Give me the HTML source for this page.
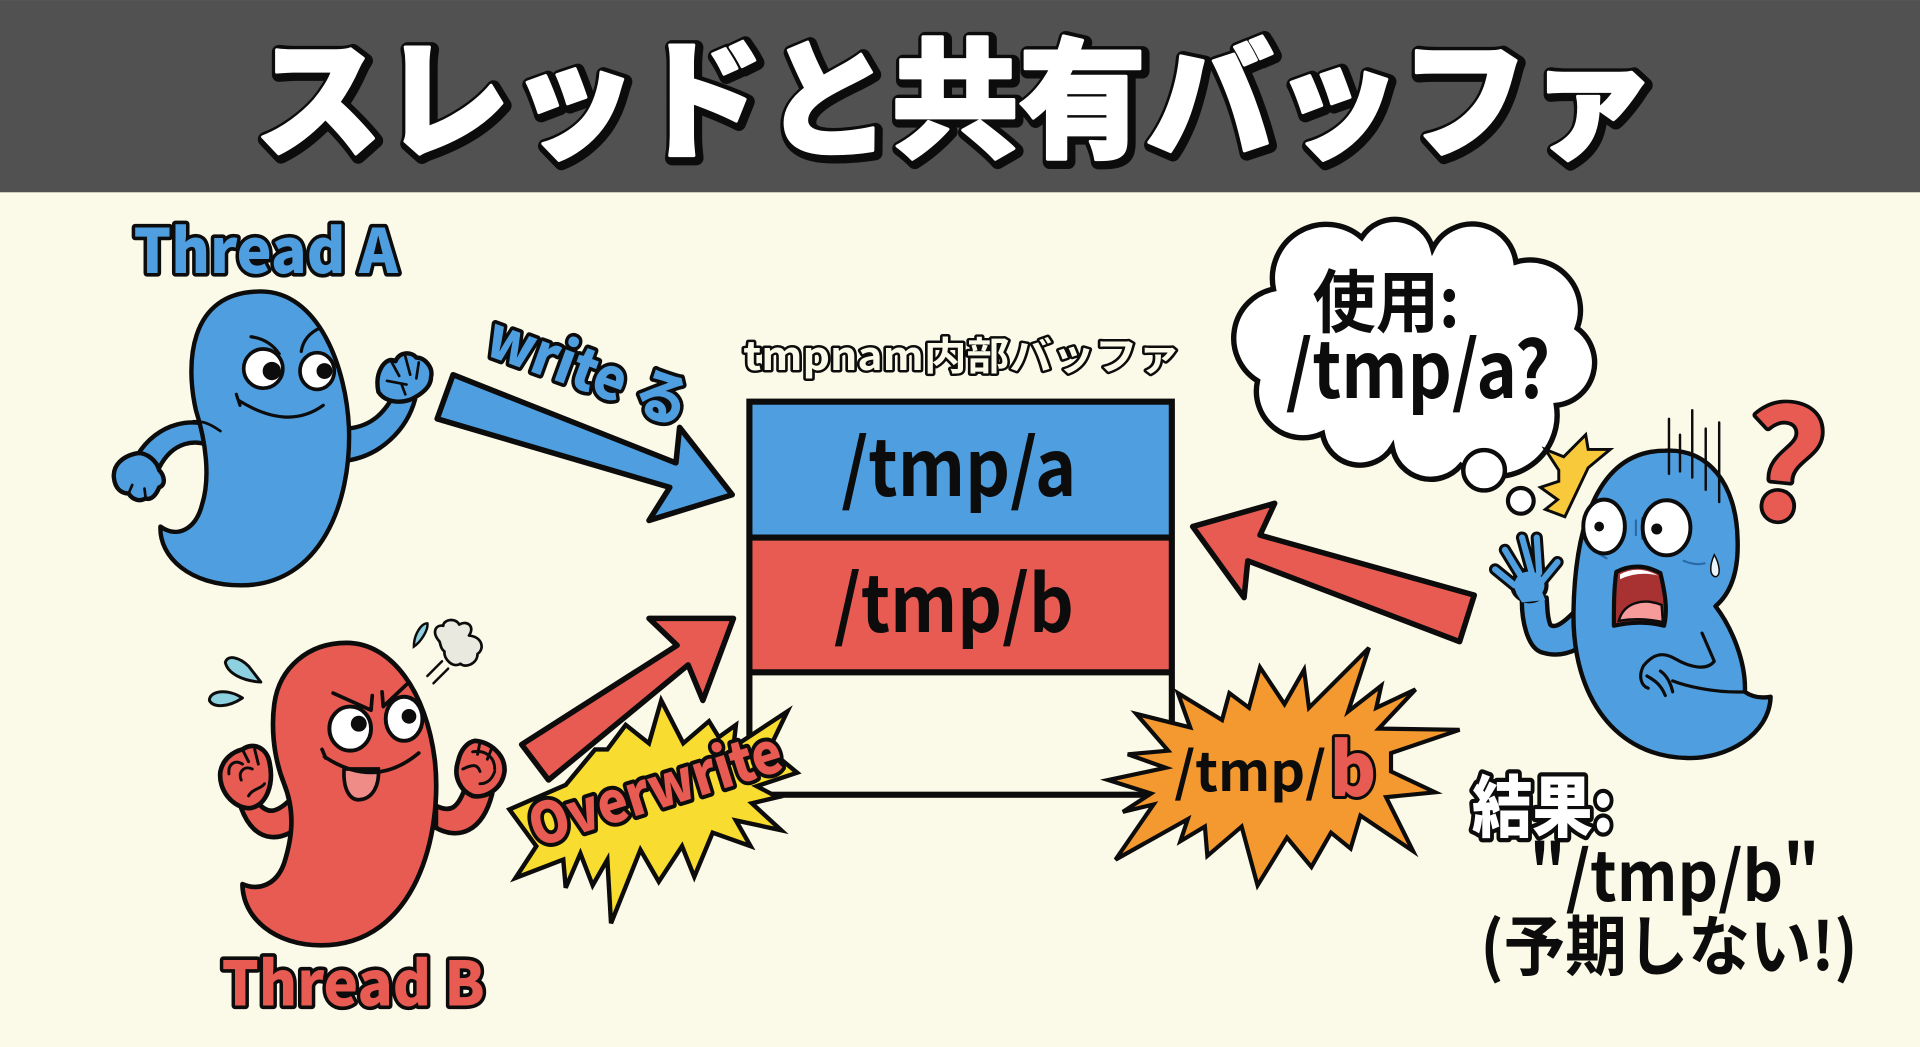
<!DOCTYPE html>
<html lang="ja">
<head>
<meta charset="utf-8">
<title>スレッドと共有バッファ</title>
<style>
html,body{margin:0;padding:0;background:#fbfae8;width:1920px;height:1047px;overflow:hidden}
svg{display:block}
text{font-family:"Noto Sans CJK JP","Liberation Sans",sans-serif;font-weight:700}
.o{stroke:#0c0c0c;paint-order:stroke;stroke-linejoin:round}
.l{fill:none;stroke:#0c0c0c;stroke-linecap:round;stroke-linejoin:round}
</style>
</head>
<body>
<svg xmlns="http://www.w3.org/2000/svg" width="1920" height="1047" viewBox="0 0 1568 855">
<rect width="1568" height="855" fill="#fbfae8"/>
<rect width="1568" height="157" fill="#505150"/>
<text x="210" y="122" font-size="106" textLength="1144" lengthAdjust="spacingAndGlyphs" fill="#0c0c0c" class="o" stroke-width="12" style="font-weight:900" aria-hidden="true">スレッドと共有バッファ</text>
<text x="208" y="120" font-size="106" textLength="1144" lengthAdjust="spacingAndGlyphs" fill="#fff" stroke="#fff" stroke-width="2.5" stroke-linejoin="round" style="font-weight:900">スレッドと共有バッファ</text>

<!-- Thread A -->
<text x="109" y="223" font-size="50" textLength="216" lengthAdjust="spacingAndGlyphs" fill="#4f9fe0" class="o" stroke-width="6" style="font-weight:900">Thread A</text>
<g stroke="#0c0c0c" stroke-width="3.6" stroke-linejoin="round" stroke-linecap="round" fill="#4f9fe0">
<path d="M284 350C305 348 315 335 322 322L339 326C332 352 310 372 284 376Z"/>
<path d="M180 352C160 338 128 345 112 372L130 382C140 362 160 355 178 368Z"/>
<path d="M131 430C145 440 160 432 165 412C172 390 168 360 160 335C152 300 152 238 213 238C260 238 283 300 285 350C287 410 262 478 197 478C155 478 130 455 131 430Z"/>
<path d="M309 306C312 296 318 292 323 295C326 287 336 287 340 292C347 292 354 300 352 308C352 316 344 322 336 326C326 330 314 328 309 320C308 315 308 310 309 306Z"/>
<path d="M113 370C100 372 92 380 93 390C94 400 100 403 105 403C108 408 114 410 119 407C124 409 128 403 130 398C136 396 134 388 130 384C128 376 120 370 113 370Z"/>
</g>
<g class="l" stroke-width="2.2">
<path d="M320 296L326 307M331 291L335 306M342 296L340 309M316 311L332 314M328 314L331 322"/>
<path d="M180 352C170 345 165 344 158 344M105 403L108 396M119 407L118 399"/>
</g>
<ellipse cx="215" cy="301" rx="16" ry="16" fill="#fff" stroke="#0c0c0c" stroke-width="3"/>
<ellipse cx="259" cy="303" rx="14" ry="15" fill="#fff" stroke="#0c0c0c" stroke-width="3"/>
<circle cx="222" cy="303" r="7.5" fill="#0c0c0c"/><circle cx="265" cy="303" r="6.5" fill="#0c0c0c"/>
<g class="l" stroke-width="2.6">
<path d="M205 275Q220 277 228 289M261 268Q248 274 246 287"/>
<path d="M195 327Q235 352 264 331M193 322L196 331"/>
</g>

<!-- write る -->
<text x="0" y="0" transform="translate(394 289) rotate(20)" font-size="47" textLength="172" lengthAdjust="spacingAndGlyphs" fill="#4f9fe0" class="o" stroke-width="6" style="font-weight:900">write る</text>
<polygon points="370,306 552,378 555,349 598,404 530,425 547,398 357,342" fill="#4f9fe0" stroke="#0c0c0c" stroke-width="4.5" stroke-linejoin="round"/>

<!-- Buffer -->
<text x="607" y="302" font-size="32" textLength="357" lengthAdjust="spacingAndGlyphs" fill="#fbfae8" class="o" stroke-width="4">tmpnam内部バッファ</text>
<rect x="612" y="328" width="345" height="111" fill="#4f9fe0"/>
<rect x="612" y="439" width="345" height="110" fill="#e85b52"/>
<rect x="612" y="328" width="345" height="321" fill="none" stroke="#0c0c0c" stroke-width="5"/>
<path d="M612 439H957M612 549H957" stroke="#0c0c0c" stroke-width="5"/>
<text x="687" y="405" font-size="64" textLength="192" lengthAdjust="spacingAndGlyphs" fill="#0c0c0c">/tmp/a</text>
<text x="681" y="516" font-size="64" textLength="196" lengthAdjust="spacingAndGlyphs" fill="#0c0c0c">/tmp/b</text>

<!-- Yellow burst -->
<polygon points="540,572 558,607 579,589 587,602 601,592 599,610 643,581 628,612 651,631 618,642 635,651 614,656 638,678 601,670 613,691 582,680 567,716 557,691 538,720 523,694 499,754 496,702 484,723 474,697 462,725 460,702 421,717 438,691 416,661 462,641 486,612 496,612 511,592 530,607" fill="#f8dc30" stroke="#0c0c0c" stroke-width="3.6" stroke-linejoin="miter"/>
<polygon points="599,505 574,572 562,543 448,637 426,608 553,527 530,505" fill="#e85b52" stroke="#0c0c0c" stroke-width="4.5" stroke-linejoin="round"/>
<text x="0" y="0" transform="translate(438 692) rotate(-17.4)" font-size="46" textLength="214" lengthAdjust="spacingAndGlyphs" fill="#e85b52" class="o" stroke-width="6.5" style="font-weight:900">Overwrite</text>

<!-- Orange burst -->
<polygon points="962,566 998,588 1004,566 1020,578 1029,545 1049,575 1065,547 1069,578 1118,529 1101,581 1128,560 1124,578 1156,563 1126,595 1192,596 1136,615 1136,630 1172,647 1132,651 1154,695 1111,666 1103,693 1087,680 1071,708 1051,684 1027,723 1014,675 986,699 984,675 964,687 970,669 911,702 942,657 917,663 940,648 905,637 952,627 921,616 954,613 928,583 972,594" fill="#f49830" stroke="#0c0c0c" stroke-width="3.4"/>
<text x="959" y="646" font-size="44" textLength="124" lengthAdjust="spacingAndGlyphs" fill="#0c0c0c">/tmp/</text>
<text x="1086" y="650" font-size="60" textLength="38" lengthAdjust="spacingAndGlyphs" fill="#e85b52" class="o" stroke-width="5" style="font-weight:900">b</text>

<!-- Red read arrow -->
<polygon points="974,430 1041,411 1029,437 1204,486 1192,524 1019,458 1016,488" fill="#e85b52" stroke="#0c0c0c" stroke-width="4.5" stroke-linejoin="round"/>

<!-- Thread B -->
<g stroke="#0c0c0c" stroke-width="3.8" stroke-linejoin="round" fill="#e85b52">
<path d="M211 656C218 664 225 666 240 650L252 668C232 690 208 690 197 660Z"/>
<path d="M356 658C368 664 374 660 380 643L402 648C394 680 374 686 356 676Z"/>
<path d="M198 722C212 728 226 722 232 705C240 680 240 660 232 640C222 615 222 590 224 575C228 545 252 525 283 525C320 525 348 565 355 620C362 680 340 772 262 772C225 772 198 750 198 722Z"/>
<path d="M198 612C208 605 218 612 220 622C224 640 218 658 204 660C190 660 178 645 180 630C182 620 190 614 198 612Z"/>
<path d="M388 605C400 606 413 616 412 630C410 645 396 652 386 650C376 646 370 634 374 622C376 612 382 606 388 605Z"/>
</g>
<g class="l" stroke-width="2.4">
<path d="M187 632C186 624 192 620 198 624M197 637C194 630 200 625 206 628M203 650C206 644 214 644 216 640M198 612L203 622M208 612L211 624"/>
<path d="M378 628C386 624 390 624 392 630M386 614C396 612 404 618 404 628M392 640C398 640 402 636 404 630M392 606L390 616M402 610L398 620"/>
</g>
<ellipse cx="286" cy="595" rx="17" ry="18" fill="#fff" stroke="#0c0c0c" stroke-width="3.2"/>
<ellipse cx="330" cy="587" rx="15" ry="18" fill="#fff" stroke="#0c0c0c" stroke-width="3.2"/>
<circle cx="293" cy="591" r="6.5" fill="#0c0c0c"/><circle cx="334" cy="585" r="6" fill="#0c0c0c"/>
<g class="l" stroke-width="3">
<path d="M272 566L303 580L304 568M332 559L313 577L312 565"/>
</g>
<path d="M281 628C280 645 286 654 294 653C304 652 310 642 309 628Z" fill="#ef8c88" stroke="#0c0c0c" stroke-width="3"/>
<path d="M265 618Q306 645 342 615M263 612L266 619" class="l" stroke-width="3"/>
<path d="M213 557C198 556 186 550 184 541C186 534 196 537 203 544Z" fill="#8dd0e0" stroke="#0c0c0c" stroke-width="2.4" stroke-linejoin="round"/>
<path d="M198 570C186 578 174 578 171 572C171 564 186 562 198 570Z" fill="#8dd0e0" stroke="#0c0c0c" stroke-width="2.4" stroke-linejoin="round"/>
<path d="M338 528C338 518 344 509 349 509C350 514 344 524 338 528Z" fill="#8dd0e0" stroke="#0c0c0c" stroke-width="2"/>
<path d="M359 524C352 516 356 510 362 511C362 506 372 504 375 510C382 506 388 512 383 519C394 520 396 530 390 534C390 542 380 546 376 542C370 546 362 538 363 532C360 530 360 527 359 524Z" fill="#e9e9e0" stroke="#0c0c0c" stroke-width="2.2" stroke-linejoin="round"/>
<path d="M349 552L361 540M354 558L366 546" class="l" stroke-width="2"/>
<text x="181" y="821" font-size="50" textLength="215" lengthAdjust="spacingAndGlyphs" fill="#e85b52" class="o" stroke-width="6" style="font-weight:900">Thread B</text>

<!-- Thought cloud -->
<path d="M1170 203A36 36 0 0 1 1238 214A41 41 0 0 1 1288 268A35 35 0 0 1 1271 331A50 50 0 0 1 1193 380A32 32 0 0 1 1137 365A31 31 0 0 1 1080 354A38 38 0 0 1 1027 311A41 41 0 0 1 1040 236A44 44 0 0 1 1112 194A32 32 0 0 1 1170 203Z" fill="#fff" stroke="#0c0c0c" stroke-width="4.4"/>
<ellipse cx="1212" cy="384" rx="17" ry="16.5" fill="#fff" stroke="#0c0c0c" stroke-width="3.6"/>
<circle cx="1242" cy="409" r="10.5" fill="#fff" stroke="#0c0c0c" stroke-width="3.4"/>
<text x="1072" y="267" font-size="56" textLength="120" lengthAdjust="spacingAndGlyphs" fill="#0c0c0c">使用:</text>
<text x="1050" y="325" font-size="64" textLength="216" lengthAdjust="spacingAndGlyphs" fill="#0c0c0c">/tmp/a?</text>

<!-- Worried thread -->
<polygon points="1262,367 1277,373 1295,355 1297,367 1315,367 1297,382 1278,422 1262,416 1272,408 1258,398 1273,393 1273,384" fill="#f9c93c" stroke="#0c0c0c" stroke-width="2.4"/>
<g stroke="#0c0c0c" stroke-width="3.6" stroke-linejoin="round" stroke-linecap="round" fill="#4f9fe0">
<path d="M1243 486C1242 505 1247 530 1260 533C1270 536 1280 534 1288 530L1290 495C1278 508 1270 514 1266 510C1263 502 1264 495 1263 488Z"/>
<path d="M1360 368C1395 366 1418 395 1419 440C1420 465 1414 484 1401 495C1414 512 1426 540 1425 565C1432 570 1440 570 1446 569C1445 600 1410 620 1378 619C1320 618 1284 570 1285 500C1286 440 1300 368 1360 368Z"/>
</g>
<g stroke-linecap="round" stroke-linejoin="round">
<path d="M1221 465L1237 478M1229 449L1243 472M1243 439L1251 468M1255 439L1257 468M1272 459L1258 476" stroke="#0c0c0c" stroke-width="10" fill="none"/>
<ellipse cx="1249" cy="478" rx="14" ry="13" fill="#4f9fe0" stroke="#0c0c0c" stroke-width="3.4"/>
<path d="M1221 465L1237 478M1229 449L1243 472M1243 439L1251 468M1255 439L1257 468M1272 459L1258 476" stroke="#4f9fe0" stroke-width="5" fill="none"/>
<path d="M1238 484L1243 492L1262 490L1258 480Z" fill="#4f9fe0"/>
</g>
<g class="l" stroke-width="2.6">
<path d="M1390 517L1400 540C1394 548 1380 545 1368 538C1358 532 1350 534 1342 544C1338 552 1340 560 1346 562"/>
<path d="M1345 552C1350 555 1356 558 1360 568M1356 548C1362 552 1365 560 1366 565M1366 556C1376 560 1400 566 1425 565"/>
<path d="M1363 342V387M1372 355V385M1382 335V390M1393 350V400M1404 345V410" stroke-width="2"/>
<path d="M1298 445Q1304 452 1312 456M1375 458Q1385 462 1392 460M1336 425V437M1341 423V440M1346 425V437" stroke="#2a6aa8" stroke-width="1.8"/>
</g>
<ellipse cx="1310" cy="430" rx="17" ry="22" fill="#fff" stroke="#0c0c0c" stroke-width="3.2"/>
<ellipse cx="1361" cy="431" rx="19.5" ry="22.5" fill="#fff" stroke="#0c0c0c" stroke-width="3.2"/>
<circle cx="1306" cy="430" r="4" fill="#0c0c0c"/><circle cx="1353" cy="432" r="4.5" fill="#0c0c0c"/>
<path d="M1320 467Q1338 458 1356 468C1360 485 1362 498 1359 511Q1340 506 1318 511C1318 495 1318 480 1320 467Z" fill="#a83232" stroke="#0c0c0c" stroke-width="3.4" stroke-linejoin="round"/>
<path d="M1323 469Q1338 461 1354 470Q1338 466 1323 473Z" fill="#fff"/>
<path d="M1322 507C1326 492 1342 488 1357 494L1358 508Q1340 504 1322 507Z" fill="#f79a9a" stroke="#0c0c0c" stroke-width="2"/>
<path d="M1400 453C1396 462 1396 470 1401 471C1406 470 1404 460 1400 453Z" fill="#e9f4fb" stroke="#0c0c0c" stroke-width="1.2"/>
<text x="0" y="0" transform="translate(1420 420) rotate(6)" font-size="122" textLength="66" lengthAdjust="spacingAndGlyphs" fill="#e85b52" class="o" stroke-width="6" style="font-weight:700">?</text>

<!-- Result -->
<text x="1202" y="679" font-size="55" textLength="116" lengthAdjust="spacingAndGlyphs" fill="#fff" class="o" stroke-width="7" style="font-weight:900">結果:</text>
<text x="1249" y="736" font-size="56" textLength="237" lengthAdjust="spacingAndGlyphs" fill="#0c0c0c">"/tmp/b"</text>
<text x="1209" y="792" font-size="54" textLength="308" lengthAdjust="spacingAndGlyphs" fill="#0c0c0c">(予期しない!)</text>
</svg>
</body>
</html>
